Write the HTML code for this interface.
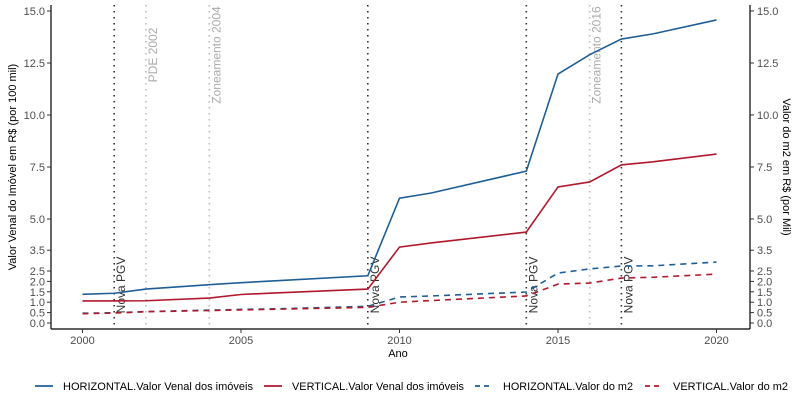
<!DOCTYPE html>
<html><head><meta charset="utf-8"><style>
html,body{margin:0;padding:0;background:#fff;}
svg{display:block;font-family:"Liberation Sans",sans-serif;}
</style></head><body>
<svg id="chart" width="800" height="409"></svg>
<script>
const years = [2000,2001,2002,2004,2005,2006,2009,2010,2011,2014,2015,2016,2017,2018,2020];
const horizVenal = [1.38,1.43,1.63,1.84,1.94,2.02,2.27,6.0,6.25,7.3,11.97,12.9,13.65,13.9,14.57];
const vertVenal  = [1.06,1.06,1.07,1.2,1.37,1.44,1.63,3.65,3.85,4.37,6.54,6.78,7.6,7.75,8.12];
const horizM2    = [0.47,0.49,0.55,0.62,0.65,0.68,0.8,1.25,1.3,1.49,2.4,2.6,2.74,2.75,2.93];
const vertM2     = [0.45,0.48,0.54,0.6,0.63,0.66,0.75,1.0,1.08,1.3,1.87,1.92,2.16,2.2,2.35];
const yTicks = [0,0.5,1,1.5,2,2.5,3.5,5,7.5,10,12.5,15];
const xTicks = [2000,2005,2010,2015,2020];
const pgvYears = [2001,2009,2014,2017];
const lawYears = [2002,2004,2016];
const lawLabels = ["PDE 2002","Zoneamento 2004","Zoneamento 2016"];

const NS="http://www.w3.org/2000/svg";
const svg=document.getElementById('chart');
const X=y=>82.5+(y-2000)*31.7;
const Y=v=>323-v*20.8;
function mk(t,a,p){const e=document.createElementNS(NS,t);for(const k in a)e.setAttribute(k,a[k]);(p||svg).appendChild(e);return e;}

pgvYears.forEach(y=>{
  const l=mk('line',{x1:X(y),x2:X(y),y1:5,y2:329,stroke:'#333','stroke-width':1.6,'stroke-dasharray':'1.5,4.5'});
  
  
  const t=mk('text',{x:0,y:0,transform:`translate(${X(y)+11},285) rotate(-90)`,'text-anchor':'middle','font-size':12,fill:'#333'});
  t.textContent='Nova PGV';
  
  
});
lawYears.forEach((y,i)=>{
  const l=mk('line',{x1:X(y),x2:X(y),y1:5,y2:329,stroke:'#bbb','stroke-width':1.6,'stroke-dasharray':'1.5,4.5'});
  
  
  const t=mk('text',{x:0,y:0,transform:`translate(${X(y)+11},55) rotate(-90)`,'text-anchor':'middle','font-size':12,fill:'#aaa'});
  t.textContent=lawLabels[i];
  
  
});

const series=[
  {d:horizVenal,c:'#1f5f96',dash:null,n:'horizontal-venal-line'},
  {d:vertVenal,c:'#b2182b',dash:null,n:'vertical-venal-line'},
  {d:horizM2,c:'#1f5f96',dash:'6,5',n:'horizontal-m2-line'},
  {d:vertM2,c:'#b2182b',dash:'6,5',n:'vertical-m2-line'}];
series.forEach(s=>{
  const pts=years.map((y,i)=>X(y)+','+Y(s.d[i])).join(' ');
  const a={points:pts,fill:'none',stroke:s.c,'stroke-width':1.6};
  if(s.dash)a['stroke-dasharray']=s.dash;
  const p=mk('polyline',a);
  
  
});

mk('line',{x1:51,x2:51,y1:5,y2:329,stroke:'#000','stroke-width':1.2});
mk('line',{x1:750,x2:750,y1:5,y2:329,stroke:'#000','stroke-width':1.2});
mk('line',{x1:51,x2:750,y1:329,y2:329,stroke:'#000','stroke-width':1.2});
yTicks.forEach(v=>{
  mk('line',{x1:47,x2:51,y1:Y(v),y2:Y(v),stroke:'#333'});
  mk('line',{x1:750,x2:754,y1:Y(v),y2:Y(v),stroke:'#333'});
  const t=mk('text',{x:45,y:Y(v)+4,'text-anchor':'end','font-size':11,fill:'#4d4d4d'});t.textContent=v.toFixed(1);
  
  
  const t2=mk('text',{x:757,y:Y(v)+4,'font-size':11,fill:'#4d4d4d'});t2.textContent=v.toFixed(1);
  
  
});
xTicks.forEach(y=>{
  mk('line',{x1:X(y),x2:X(y),y1:329,y2:333,stroke:'#333'});
  const t=mk('text',{x:X(y),y:344,'text-anchor':'middle','font-size':11,fill:'#4d4d4d'});t.textContent=y;
  
  
});
let t=mk('text',{x:0,y:0,transform:'translate(16,167) rotate(-90)','text-anchor':'middle','font-size':11,fill:'#000'});
t.textContent='Valor Venal do Imóvel em R$ (por 100 mil)';


t=mk('text',{x:0,y:0,transform:'translate(783,167) rotate(90)','text-anchor':'middle','font-size':11,fill:'#000'});
t.textContent='Valor do m2 em R$ (por Mil)';


t=mk('text',{x:398,y:357,'text-anchor':'middle','font-size':11,fill:'#000'});
t.textContent='Ano';



const leg=[
  {x:35,tx:63,tw:190,c:'#1f5f96',dash:null,l:'HORIZONTAL.Valor Venal dos imóveis'},
  {x:264,tx:292,tw:172,c:'#b2182b',dash:null,l:'VERTICAL.Valor Venal dos imóveis'},
  {x:475,tx:503,tw:130,c:'#1f5f96',dash:'5,4',l:'HORIZONTAL.Valor do m2'},
  {x:645,tx:673,tw:115,c:'#b2182b',dash:'5,4',l:'VERTICAL.Valor do m2'}];
leg.forEach(e=>{
  const g=mk('g',{});
  
  
  const a={x1:e.x,x2:e.x+18,y1:386,y2:386,stroke:e.c,'stroke-width':1.8};
  if(e.dash)a['stroke-dasharray']=e.dash;
  mk('line',a,g);
  const tt=mk('text',{x:e.tx,y:390,'font-size':11,fill:'#000',textLength:e.tw,lengthAdjust:'spacingAndGlyphs'},g);tt.textContent=e.l;
});
</script>
</body></html>
